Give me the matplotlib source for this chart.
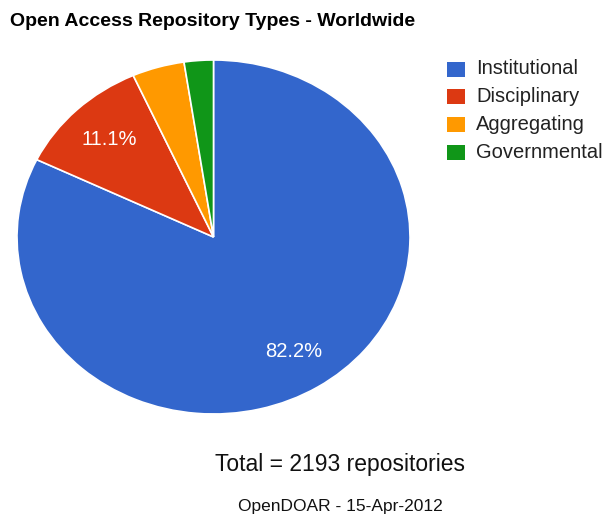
import matplotlib.pyplot as plt
from matplotlib.patches import Rectangle

plt.rcParams['font.family'] = ['Liberation Sans', 'DejaVu Sans']

# repository shares (percent), Google-chart order
types = ['Institutional', 'Disciplinary', 'Aggregating', 'Governmental']
shares = [82.2, 11.1, 4.3, 2.4]
colors = ['#3366cc', '#dc3912', '#ff9900', '#109618']
total = 2193

W, H = 603, 515
fig = plt.figure(figsize=(W / 100, H / 100), dpi=100)

# pie box in pixels (image is a bit stretched sideways, so pie is an ellipse)
left, top, right, bottom = 17, 60, 410, 414
ax = fig.add_axes([left / W, 1 - bottom / H, (right - left) / W, (bottom - top) / H])


def pct(p):
    return '%.1f%%' % p if p > 5 else ''


wedges, texts, autotexts = ax.pie(shares, colors=colors, startangle=90, counterclock=False,
                                  autopct=pct, pctdistance=0.765,
                                  wedgeprops=dict(edgecolor='white', linewidth=1.2))
for t in autotexts:
    t.set_color('white')
    t.set_fontsize(14.5)
ax.set_aspect('auto')
ax.set_xlim(-1.0, 1.0)
ax.set_ylim(-1.0, 1.0)

fig.text(10 / W, 1 - 22 / H, 'Open Access Repository Types - Worldwide',
         fontsize=14, fontweight='bold', va='center', ha='left')

# legend
for i, (lab, col) in enumerate(zip(types, colors)):
    yc = 69 + i * 27.7
    fig.patches.append(Rectangle((447 / W, 1 - (yc + 7.5) / H), 18 / W, 15 / H,
                                 transform=fig.transFigure, facecolor=col, edgecolor='none'))
    fig.text(476 / W, 1 - yc / H, lab, fontsize=14.5, color='#222222', va='center', ha='left')

fig.text(340 / W, 1 - 464 / H, 'Total = %d repositories' % total, fontsize=16.5,
         ha='center', va='center', color='#111111')
fig.text(340 / W, 1 - 506 / H, 'OpenDOAR - 15-Apr-2012', fontsize=12.5,
         ha='center', va='center', color='#111111')

fig.savefig('out.png', dpi=100)
